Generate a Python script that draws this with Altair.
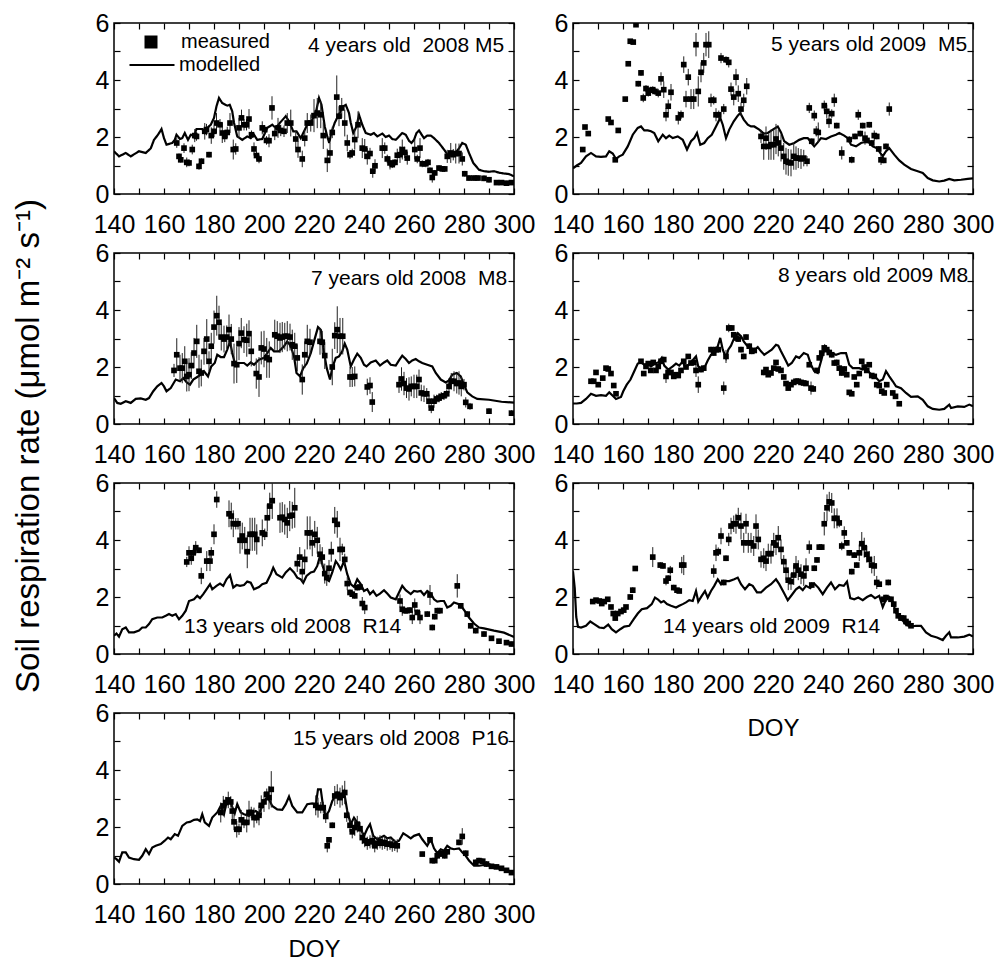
import altair as alt
import pandas as pd

FONT = "Liberation Sans"

# ---------------- data: modelled lines [DOY, rate] ----------------
P1_MODEL = [[140,1.5],[142,1.32],[144.7,1.44],[146.7,1.32],[150,1.5],[152.7,1.44],[154.7,1.6],[156,1.9],[157.6,2.08],[159,2.28],[160,1.96],[161,1.73],[163.3,1.79],[164.3,1.9],[165,2.08],[166.4,1.93],[167.3,1.96],[168.3,2.14],[169.6,1.9],[170.7,2.08],[172,2.05],[173,2.28],[175.3,2.28],[176.3,2.14],[177.3,2.32],[178.7,2.43],[180,2.67],[181,3.08],[182,3.37],[183.3,3.19],[185.3,3.1],[186.3,3.13],[187.3,2.9],[188,2.5],[189.3,2.02],[191.3,1.9],[193.3,2.02],[194.7,1.96],[196,2.08],[197.3,1.9],[199.3,1.93],[201.3,2.32],[203.3,2.43],[204.7,2.32],[206.4,2.5],[208.7,2.73],[210,2.55],[211.7,2.2],[213,2.2],[214.7,1.96],[215.7,2.14],[217.3,2.43],[218.7,2.5],[220,2.73],[221,2.96],[222,3.37],[223,3.13],[224.3,2.37],[225.3,2.02],[226.1,1.79],[226.9,2.14],[228.3,2.5],[229.6,2.73],[231.7,3.08],[232.7,3.13],[234,2.84],[234.7,2.5],[235.7,2.14],[237,2.37],[238,2.78],[239.3,2.43],[240.7,2.14],[242.7,2.08],[244,2.14],[245.3,2.02],[247.3,2.12],[248.7,2.0],[250,2.05],[251.3,1.93],[252.7,1.9],[254,2.02],[255.3,2.14],[256.7,2.08],[258,1.87],[259,1.79],[260,1.9],[261,2.14],[262,2.23],[263.3,2.05],[264,1.96],[265.3,2.05],[266.7,2.05],[268,1.96],[270,1.79],[272,1.56],[274,1.32],[276,1.38],[278,1.6],[279.3,1.79],[280.7,1.73],[282,1.44],[283.7,1.09],[286,0.85],[288,0.8],[290,0.78],[292,0.8],[294,0.75],[296,0.72],[298,0.7],[300,0.62]]

P2_MODEL = [[140,0.9],[141.5,1.0],[143.2,1.09],[145.2,1.32],[147.2,1.44],[149.2,1.32],[151.2,1.3],[153.2,1.32],[154.5,1.5],[155.9,1.42],[157.2,1.23],[158.5,1.32],[159.9,1.38],[161.9,1.67],[163.9,2.08],[165.9,2.32],[167.2,2.37],[168.5,2.23],[169.9,2.23],[171.2,2.2],[172.5,2.14],[174.1,1.85],[175.9,2.08],[177.2,1.96],[178.5,2.05],[179.9,1.96],[181.9,2.02],[183.9,1.9],[185.6,1.56],[187.2,1.85],[188.5,1.96],[189.6,2.14],[190.9,1.73],[192.5,1.79],[193.9,1.96],[195.5,2.08],[197.2,2.37],[198.9,2.67],[199.9,2.43],[201.2,1.96],[202.5,2.26],[204.3,2.55],[205.9,2.75],[206.9,2.84],[208.3,2.61],[209.9,2.43],[211.2,2.37],[212.5,2.37],[214.5,2.26],[216.3,2.12],[217.9,2.14],[219.9,2.26],[221.9,2.37],[223.2,2.16],[224.5,1.85],[226.5,1.73],[228.5,1.79],[230.5,1.9],[232.3,1.96],[233.9,1.96],[235.2,1.81],[236.5,1.67],[237.9,1.81],[239.2,1.96],[241.2,1.93],[243.2,2.02],[245.2,2.08],[246.5,2.14],[248.5,2.05],[249.9,1.96],[251.2,1.73],[253.2,1.67],[255.2,1.79],[257.9,1.85],[259.9,1.67],[261.6,1.61],[262.9,1.44],[263.9,1.32],[265.2,1.5],[266.5,1.61],[268.5,1.38],[270.5,1.18],[272.5,1.03],[275.2,0.88],[277.9,0.8],[279.9,0.74],[281.9,0.56],[283.9,0.48],[286.5,0.44],[288.5,0.47],[290.5,0.53],[292.5,0.48],[295.2,0.5],[297.9,0.53],[300,0.55]]

P3_MODEL = [[140,0.91],[141.3,0.74],[142.7,0.71],[144.7,0.8],[146.7,0.74],[148.7,0.88],[150.7,0.9],[152.7,0.85],[154,0.91],[155.7,1.15],[157.3,1.32],[159,1.44],[160,1.32],[161,1.15],[162.7,1.26],[164.7,1.56],[166.4,1.5],[167.7,1.61],[169.1,1.46],[170.4,1.38],[171.7,1.56],[173.3,1.65],[174.7,1.73],[176,1.85],[177.6,1.67],[178.9,2.02],[180.3,2.14],[181.3,2.43],[182.7,2.35],[184,2.35],[185.3,2.61],[186.4,2.9],[187.3,2.49],[188.3,2.14],[190,2.14],[192,2.14],[193.3,2.05],[194.7,2.16],[196,2.08],[198,2.26],[200,2.32],[201.3,2.49],[202.7,2.67],[204,2.55],[206,2.55],[208,2.73],[209.3,2.9],[210.7,2.73],[212,2.37],[213,1.79],[214.4,1.67],[215.7,1.96],[217.1,2.12],[218.7,2.49],[220,2.9],[221.6,3.4],[222.7,3.31],[223.7,2.67],[225.1,1.96],[226.4,1.56],[227.3,1.96],[228.7,2.32],[230,2.37],[231.3,2.55],[232.3,2.82],[233.3,2.61],[234.7,2.02],[236,2.26],[237.3,2.47],[238.7,2.32],[240,2.08],[241,2.02],[242.7,2.16],[244.7,2.23],[246.4,2.05],[248,2.16],[249.3,2.23],[250.7,2.08],[252.7,2.05],[254,2.23],[255.3,2.4],[256.7,2.28],[258,2.14],[259.3,2.23],[260.7,2.28],[262,2.2],[263.3,2.14],[265.3,2.08],[267.3,2.02],[268.7,1.79],[270.7,1.56],[272.7,1.46],[274,1.53],[275.3,1.73],[277.1,1.79],[278.7,1.67],[280,1.38],[281.3,1.11],[283.3,0.97],[285.3,0.88],[290,0.85],[295,0.78],[300,0.75]]

P4_MODEL = [[140,0.72],[141.5,0.72],[143.2,0.74],[145.2,0.88],[147.2,1.06],[149.2,0.99],[151.2,1.01],[153.2,0.99],[154.5,1.11],[155.9,0.99],[157.2,0.88],[159.2,0.95],[160.1,1.15],[161.5,1.38],[163,1.56],[164.5,1.85],[165.9,2.12],[167.2,2.16],[168.5,2.08],[169.9,2.12],[171.2,2.02],[172.8,2.12],[174.1,2.16],[175.5,2.32],[176.5,2.05],[178.1,1.91],[179.9,2.02],[181.2,2.12],[182.5,2.05],[183.9,2.2],[184.8,2.0],[185.9,2.05],[187.2,2.16],[188.3,2.28],[189.2,2.37],[190.1,2.02],[191.2,1.96],[192.8,2.02],[193.9,2.23],[195.2,2.43],[196.5,2.51],[197.9,2.73],[198.9,3.02],[199.9,2.61],[201.2,2.32],[202.1,2.61],[203.2,2.75],[204.5,3.02],[205.9,3.19],[207.2,3.08],[208.3,2.9],[209.6,2.75],[210.9,2.7],[212.3,2.58],[213.9,2.7],[215.2,2.55],[216.5,2.43],[217.9,2.51],[219.5,2.61],[221.2,2.78],[222.1,2.75],[223.2,2.55],[224.8,2.28],[226.1,2.05],[227.5,2.14],[229.2,2.37],[230.5,2.32],[232.3,2.49],[233.9,2.43],[235.2,2.08],[236.5,1.85],[237.9,1.79],[239.2,2.2],[240.8,2.73],[242.5,2.55],[243.9,2.47],[245.2,2.43],[247.2,2.49],[249.2,2.49],[250.5,2.08],[251.9,1.96],[254.5,1.96],[255.9,1.91],[257.2,1.96],[258.9,1.77],[260.5,1.7],[262.5,1.5],[263.9,1.56],[265.2,1.85],[266.5,1.67],[267.9,1.5],[269.2,1.32],[271.2,1.26],[273.2,1.09],[275.2,0.95],[277.9,0.97],[279.9,0.85],[281.9,0.62],[283.9,0.53],[286.5,0.5],[288.5,0.53],[290.5,0.68],[291.2,0.56],[293.9,0.62],[296.5,0.6],[298.5,0.68],[300,0.62]]

P5_MODEL = [[140,0.64],[141,0.72],[142,0.61],[143.3,0.87],[144.7,0.93],[146,0.76],[148,0.76],[150,0.82],[151.3,0.93],[152.7,0.93],[154,1.05],[155.3,1.22],[157.3,1.28],[159.3,1.28],[160.7,1.34],[162,1.4],[163.3,1.34],[164.7,1.4],[166,1.22],[167.3,1.34],[168.7,1.52],[170,1.86],[172,1.92],[173.3,2.04],[174.4,1.96],[175.7,2.1],[177,2.27],[178.4,2.45],[179.3,2.27],[181,2.39],[182.4,2.47],[183.7,2.39],[185,2.62],[186.4,2.77],[187.7,2.33],[189,2.42],[190.4,2.39],[192,2.42],[193.3,2.54],[194.7,2.5],[196,2.27],[198,2.35],[199.3,2.45],[201,2.5],[202.7,2.8],[203.7,3.03],[205,2.8],[207.3,2.68],[208.7,2.86],[210.4,3.01],[212,2.86],[213.3,2.68],[214.7,2.62],[215.7,2.5],[217,2.74],[218.7,2.86],[220,2.89],[221.3,3.09],[222.4,3.44],[223.7,3.03],[225,2.62],[226,2.56],[227.3,2.86],[228.7,3.26],[229.6,3.15],[230.7,2.97],[232,3.26],[233.3,2.8],[234.7,2.45],[236,2.35],[237.3,2.62],[238.7,2.45],[240,2.21],[241.3,2.27],[242.4,2.1],[243.7,2.21],[245,2.04],[246.4,2.12],[248,2.24],[249.3,2.12],[250.7,1.98],[252.7,1.92],[254,2.16],[255.3,2.39],[256.7,2.24],[258.7,2.1],[260,2.21],[261.3,2.19],[262.7,2.21],[264,2.07],[265.3,2.21],[266.7,2.12],[268,1.92],[269.3,1.84],[270.7,1.86],[272,1.86],[273.3,1.63],[274.7,1.69],[276,1.81],[278,1.75],[279.3,1.63],[280.7,1.46],[282,1.28],[284,1.07],[286,0.93],[288,0.9],[292,0.82],[296,0.75],[300,0.6]]

P6_MODEL = [[140,2.9],[140.7,2.3],[141.3,1.3],[142,0.95],[143.2,0.93],[145.2,0.99],[146.9,1.14],[148.5,1.05],[150.5,0.93],[152.3,0.91],[154.1,1.03],[155.5,0.87],[157.2,0.76],[158.9,0.87],[160.5,0.96],[162.5,0.99],[164.3,1.22],[165.9,1.42],[167.5,1.57],[169.6,1.61],[171.5,1.75],[172.8,1.98],[173.9,1.92],[175.2,1.81],[176.3,1.86],[177.6,1.75],[179.2,1.69],[181.2,1.63],[182.5,1.69],[183.9,1.75],[185.2,1.81],[186.5,1.89],[187.9,1.86],[189.2,2.21],[190.1,1.84],[191.5,2.04],[192.8,2.21],[193.9,1.98],[195.2,2.21],[196.5,2.39],[197.9,2.62],[199.2,2.45],[200.5,2.56],[202.5,2.56],[204.5,2.62],[205.9,2.68],[207.2,2.45],[208.8,2.27],[210.5,2.45],[211.9,2.39],[213.6,2.16],[215.2,2.16],[217.2,2.33],[219.2,2.45],[221.2,2.62],[222.5,2.45],[224.3,2.16],[225.9,1.89],[227.5,2.07],[229.2,2.27],[230.5,2.35],[231.9,2.24],[233.2,2.39],[234.9,2.31],[236.5,2.47],[238.1,2.33],[239.9,2.1],[241.6,2.33],[243.2,2.51],[244.8,2.27],[246.5,2.42],[248.3,2.39],[249.6,2.54],[250.9,1.96],[252.5,1.92],[254.1,1.98],[255.9,1.89],[257.6,2.0],[259.2,2.07],[260.8,1.96],[262.5,2.04],[263.9,1.65],[265.2,1.92],[266.5,2.0],[267.9,1.81],[269.2,1.46],[270.5,1.28],[271.9,1.17],[273.2,1.03],[275.2,0.96],[277.2,0.99],[279.2,0.99],[281.2,0.76],[283.2,0.64],[285.6,0.58],[287.9,0.49],[289.2,0.64],[290.5,0.76],[291.2,0.58],[293.9,0.58],[296.5,0.61],[298.5,0.68],[300,0.61]]

P7_MODEL = [[140,0.93],[141,0.87],[142,0.78],[143.3,1.11],[144.7,1.11],[146,0.93],[148,0.87],[150,0.85],[151.3,0.99],[152.7,1.22],[154,1.05],[155.3,1.28],[156.7,1.34],[158.7,1.4],[160.3,1.52],[161.6,1.63],[162.7,1.57],[164.3,1.75],[165.6,1.69],[167.3,2.04],[169.1,2.16],[170.4,2.18],[172,2.25],[173.3,2.27],[174.4,2.21],[175.3,2.45],[176.3,2.16],[178,2.04],[179.3,2.33],[181.3,2.51],[182.7,2.74],[184,2.45],[185.3,2.97],[186.9,2.8],[188.3,2.48],[189.3,2.8],[190.7,2.51],[192,2.45],[194,2.39],[195.3,2.51],[196.7,2.56],[198,2.48],[199.7,2.8],[201.3,3.09],[203.3,2.74],[205.3,2.62],[207.3,2.6],[208.7,2.8],[210,3.07],[211.3,2.74],[213.3,2.51],[215.3,2.51],[217.3,2.8],[219.3,2.83],[220.7,2.76],[221.6,3.32],[222.7,3.32],[223.7,2.68],[224.7,2.39],[226,2.56],[227.3,2.91],[229.3,3.21],[230.7,3.09],[232,3.26],[233.3,2.56],[234.7,2.1],[236,2.33],[237.3,2.16],[238.7,1.92],[240,1.69],[241.3,1.94],[242.4,2.1],[243.7,1.69],[245.3,1.57],[246.7,1.63],[248,1.69],[249.3,1.6],[250.7,1.63],[252.7,1.46],[254,1.52],[255.7,1.78],[257.3,1.69],[258.7,1.6],[260,1.69],[262,1.75],[263.3,1.57],[265.3,1.34],[266.7,1.57],[268,1.25],[269.3,1.08],[270.7,1.22],[272,1.17],[273.3,1.34],[274.7,1.25],[276,1.22],[278,1.25],[279.3,1.11],[280.7,0.99],[282,0.82],[284,0.64],[286,0.64],[290,0.7],[294,0.55],[297,0.5],[300,0.4]]

# ---------------- data: measured [DOY, rate, error] ----------------
P1_MEAS = [[165.1,1.79,0.17],[166,1.32,0.1],[166.7,1.2,0.1],[168,1.61,0.17],[169.1,1.11,0.17],[170,1.09,0.12],[171.3,1.56,0.17],[172.3,2.05,0.23],[173,2.02,0.15],[174,0.97,0.12],[175,1.15,0.1],[176.3,2.2,0.29],[177,2.26,0.2],[178,1.38,0.1],[178.9,2.05,0.29],[180,2.2,0.2],[181,2.49,0.35],[182.4,2.43,0.2],[183.3,2.14,0.35],[184.3,2.02,0.2],[185.3,2.16,0.2],[186.4,2.49,0.35],[187.7,1.56,0.35],[188.7,1.58,0.2],[190,2.32,0.35],[191,2.67,0.29],[192,2.43,0.2],[193,2.43,0.2],[194,2.63,0.35],[195,2.08,0.15],[196,1.58,0.23],[197,1.35,0.15],[198,1.23,0.15],[199.3,2.32,0.23],[200.3,2.26,0.15],[201,1.88,0.15],[202,1.87,0.23],[203.2,3.02,0.41],[204.3,2.12,0.23],[205.6,2.32,0.35],[206.7,2.23,0.2],[208,2.2,0.2],[209.3,2.49,0.35],[210.7,2.49,0.47],[212.7,1.93,0.29],[213.6,1.56,0.29],[215.3,1.23,0.29],[216.3,1.96,0.29],[217.3,2.49,0.35],[218.7,2.49,0.3],[220,2.75,0.58],[221.3,2.84,0.53],[222.7,2.78,0.47],[223.7,2.05,0.47],[225.3,1.18,0.41],[226.4,1.44,0.35],[227.3,2.16,0.2],[229.1,3.4,0.76],[230,2.73,0.35],[231.1,3.02,0.35],[232.3,2.49,0.47],[233.3,1.79,0.29],[234.4,1.38,0.15],[235.3,1.44,0.15],[236.3,1.91,0.35],[237.6,2.43,0.47],[239.3,1.61,0.35],[240.3,1.58,0.35],[241.3,1.32,0.29],[242.4,1.42,0.2],[243.5,0.8,0.23],[244.4,0.99,0.23],[247.3,1.61,0.35],[248.3,1.61,0.2],[249.3,1.23,0.15],[250.4,1.09,0.23],[251.3,1.03,0.12],[252.4,1.11,0.12],[253.3,1.36,0.23],[254.4,1.38,0.29],[255.3,1.56,0.35],[256.3,1.46,0.2],[257.3,1.26,0.23],[260.3,1.56,0.35],[261.3,1.23,0.15],[262.4,1.61,0.35],[263.3,1.06,0.12],[264.7,1.06,0.12],[265.6,1.11,0.12],[266.4,0.83,0.1],[267.3,0.58,0.18],[268.3,0.74,0.1],[270,0.91,0.1],[271.3,0.88,0.1],[272.3,0.88,0.1],[273.3,1.32,0.23],[274.7,1.44,0.35],[275.7,1.38,0.2],[276.7,1.42,0.35],[278,1.42,0.35],[279.3,1.23,0.23],[280.3,0.71,0.1],[282,0.56,0.1],[284,0.56,0.1],[285.6,0.56,0.1],[288,0.55,0.1],[290,0.5,0.1],[293,0.4,0.08],[295,0.4,0.08],[297,0.38,0.08],[299,0.4,0.08]]

P2_MEAS = [[143.9,1.56,0.05],[144.8,2.35,0.05],[146.1,2.12,0.05],[154.1,2.63,0.05],[155.2,2.51,0.05],[156.9,1.2,0.05],[158.1,2.23,0.05],[160.9,3.33,0.05],[162.1,4.57,0.05],[162.9,5.36,0.05],[164.1,5.33,0.05],[165.2,5.94,0.05],[166.1,3.87,0.1],[167.2,4.25,0.1],[168.1,3.37,0.15],[169.2,3.7,0.12],[170.1,3.54,0.12],[170.9,3.64,0.12],[171.9,3.66,0.12],[172.8,3.6,0.12],[174.1,3.54,0.15],[175.2,4.04,0.23],[176.3,3.66,0.29],[177.2,2.78,0.23],[178.1,3.08,0.23],[179.2,3.57,0.29],[182.1,2.67,0.23],[183.2,2.78,0.15],[184.3,4.54,0.29],[185.2,3.33,0.29],[186.1,4.1,0.29],[187.2,3.33,0.35],[188.3,3.33,0.35],[189.2,5.24,0.41],[190.1,3.6,0.53],[191.2,4.27,0.35],[192.3,4.6,0.35],[193.2,5.24,0.41],[194.3,5.24,0.47],[195.2,3.29,0.23],[196.3,3.29,0.15],[197.2,2.78,0.23],[198.3,2.78,0.15],[199.2,4.77,0.18],[200.3,2.98,0.18],[201.2,4.71,0.12],[202.3,4.62,0.18],[203.2,3.68,0.23],[204.3,3.4,0.29],[205.2,4.1,0.29],[206.1,3.52,0.29],[207.2,2.98,0.23],[208.3,3.29,0.23],[209.5,3.78,0.29],[215.2,2.02,0.23],[216.3,1.67,0.47],[217.2,1.96,0.41],[218.3,1.67,0.47],[219.2,1.73,0.53],[220.3,1.73,0.53],[221.2,1.93,0.53],[222.1,1.79,0.47],[223.2,1.61,0.47],[224.3,1.32,0.47],[225.2,1.15,0.47],[226.1,1.11,0.47],[227.2,1.09,0.47],[228.3,1.32,0.47],[229.2,1.26,0.41],[230.1,1.26,0.35],[231.2,1.23,0.35],[232.3,1.26,0.29],[233.6,1.15,0.18],[234.5,3.02,0.18],[235.5,1.85,0.1],[236.5,2.75,0.18],[237.3,2.2,0.18],[238.1,2.16,0.35],[240.5,3.1,0.18],[241.5,2.9,0.23],[242.4,2.55,0.23],[243.5,2.82,0.15],[244.5,3.29,0.23],[245.5,2.4,0.1],[247.5,1.44,0.23],[250.5,1.91,0.12],[251.5,1.2,0.12],[252.8,2.02,0.1],[254.1,2.78,0.18],[254.9,2.12,0.1],[255.9,2.4,0.1],[256.8,1.96,0.23],[257.6,1.88,0.1],[258.5,2.43,0.1],[259.5,1.79,0.1],[260.5,2.05,0.18],[261.5,2.02,0.1],[262.3,1.58,0.1],[263.2,1.2,0.18],[264.3,1.18,0.1],[265.2,1.67,0.1],[266.5,2.98,0.23]]

P3_MEAS = [[164,1.88,0.23],[165.1,2.43,0.58],[166.4,1.96,0.47],[167.3,1.96,0.53],[168.3,2.2,0.53],[169.1,1.67,0.53],[170,1.73,0.58],[170.9,2.05,0.47],[172,2.49,0.53],[173.1,2.9,0.58],[174,1.85,0.58],[174.9,1.79,0.47],[176,2.55,0.47],[177.1,2.98,0.7],[178,2.2,0.35],[178.9,2.73,0.47],[180,3.4,0.58],[181.1,3.8,0.7],[182,3.57,0.58],[182.9,3.05,0.47],[184,2.98,0.47],[185.1,3.05,0.41],[186,3.31,0.53],[186.9,2.98,0.53],[188,2.12,0.7],[189.1,2.08,0.64],[190,2.82,0.58],[190.9,3.19,0.53],[192,2.96,0.47],[193.1,2.94,0.58],[194,3.17,0.47],[194.9,2.55,0.53],[196.9,1.77,0.53],[198,1.65,0.7],[198.9,2.67,0.58],[200,2.63,0.64],[201.1,2.32,0.7],[202.1,2.26,0.64],[204.3,3.13,0.53],[205.3,3.08,0.53],[206.4,3.02,0.53],[207.3,3.05,0.53],[208.3,3.08,0.47],[209.3,3.08,0.53],[210.4,3.05,0.47],[211.3,2.78,0.53],[212.3,2.73,0.47],[213.3,2.32,0.47],[215.3,1.56,0.53],[216.3,2.43,0.47],[217.3,2.9,0.58],[218.4,2.87,0.47],[222.4,2.9,0.47],[223.3,2.87,0.4],[224.3,2.4,0.47],[227.3,2.0,0.64],[228.3,3.1,0.47],[229.3,3.31,0.82],[230.4,3.08,0.64],[231.5,3.08,0.64],[234.4,1.65,0.35],[235.3,1.65,0.35],[236.3,1.67,0.35],[241.3,1.3,0.29],[242.4,1.35,0.29],[243.3,0.77,0.35],[254,1.38,0.29],[255,1.58,0.41],[256,1.42,0.41],[257,1.26,0.35],[258,1.23,0.41],[258.9,1.32,0.35],[260,1.32,0.41],[261.1,1.32,0.41],[262,1.56,0.35],[262.9,1.09,0.29],[264,1.06,0.29],[265.1,1.06,0.2],[266,0.8,0.23],[266.9,0.56,0.18],[268,0.8,0.23],[269.1,0.88,0.15],[270,0.91,0.15],[270.9,0.97,0.15],[272,0.99,0.15],[273.1,1.06,0.15],[274,1.32,0.23],[274.9,1.5,0.29],[276,1.5,0.35],[277.1,1.42,0.35],[278,1.44,0.41],[278.9,1.32,0.35],[280,1.38,0.2],[280.7,0.76,0.18],[282.4,0.62,0.12],[290,0.45,0.1],[299,0.38,0.1]]

P4_MEAS = [[147.2,1.5,0.05],[148.3,1.5,0.05],[149.2,1.81,0.05],[150.1,1.38,0.05],[151.9,1.61,0.05],[153.2,1.96,0.05],[154.1,1.93,0.05],[155.2,1.77,0.05],[156.3,1.35,0.05],[157.2,1.06,0.05],[167.2,2.2,0.08],[168.3,1.77,0.08],[169.2,2.02,0.08],[170.1,2.12,0.08],[171.1,1.88,0.08],[172.1,2.16,0.08],[173.2,1.88,0.08],[174.1,2.02,0.08],[175.2,2.2,0.1],[176.3,2.26,0.1],[177.2,1.67,0.23],[178.1,1.81,0.1],[179.2,1.81,0.08],[180.3,1.67,0.08],[181.2,1.73,0.08],[182.1,1.7,0.08],[183.2,1.88,0.08],[184.3,2.2,0.08],[185.2,2.0,0.08],[186.1,2.37,0.08],[187.2,2.14,0.08],[188.3,2.16,0.1],[189.2,1.88,0.23],[190.1,1.38,0.29],[191.2,1.91,0.1],[192.3,1.96,0.1],[195.2,2.61,0.1],[196.3,2.49,0.1],[197.2,2.61,0.1],[198.1,2.61,0.1],[200.3,1.26,0.23],[201.2,2.37,0.23],[202.3,3.37,0.15],[203.5,3.37,0.1],[204.3,3.13,0.1],[205.2,3.02,0.1],[206.1,2.98,0.1],[207.2,2.61,0.1],[208.3,2.37,0.1],[209.2,3.05,0.1],[210.5,2.73,0.1],[211.5,2.55,0.1],[212.5,2.58,0.1],[216.3,1.81,0.1],[217.2,1.91,0.08],[218.1,1.73,0.08],[219.2,1.79,0.08],[220.3,1.96,0.08],[221.2,2.16,0.08],[222.1,1.93,0.08],[223.2,1.88,0.08],[224.3,1.65,0.08],[225.2,1.42,0.08],[226.1,1.26,0.08],[227.2,1.38,0.08],[228.3,1.46,0.08],[229.2,1.5,0.1],[230.1,1.5,0.1],[231.2,1.46,0.1],[232.3,1.44,0.08],[233.2,1.42,0.08],[234.5,2.08,0.08],[235.2,1.26,0.23],[236.1,1.23,0.1],[237.6,1.88,0.08],[238.5,2.32,0.08],[239.5,2.49,0.08],[240.5,2.67,0.1],[241.5,2.61,0.1],[242.5,2.51,0.1],[243.5,2.43,0.1],[244.5,2.14,0.1],[245.5,2.16,0.1],[246.5,1.96,0.1],[247.5,1.79,0.1],[248.5,1.93,0.1],[249.5,1.73,0.08],[250.5,1.11,0.08],[251.5,1.06,0.08],[252.5,1.65,0.08],[253.5,1.38,0.08],[254.5,1.77,0.08],[255.5,2.2,0.08],[256.5,2.0,0.08],[257.5,1.88,0.08],[258.5,2.08,0.08],[259.5,1.7,0.08],[260.5,1.67,0.08],[261.5,1.38,0.08],[262.5,1.35,0.08],[263.5,1.15,0.08],[264.5,1.09,0.08],[265.5,1.38,0.08],[267.9,1.09,0.08],[269,0.97,0.08],[270.5,0.71,0.08]]

P5_MEAS = [[169.1,3.23,0.18],[170,3.55,0.23],[170.9,3.36,0.23],[171.7,3.55,0.15],[172.7,3.73,0.23],[174,3.64,0.1],[174.9,2.74,0.29],[177.1,3.26,0.35],[178.4,3.26,0.35],[178.9,3.55,0.2],[180,4.2,0.35],[181.1,5.42,0.29],[186,4.92,0.47],[186.9,4.84,0.47],[187.7,4.57,0.47],[188.7,4.57,0.2],[189.6,4.57,0.2],[190.4,3.99,0.47],[191.3,4.14,0.47],[192.3,3.99,0.47],[193.3,3.59,0.58],[194.4,4.2,0.58],[195.3,4.2,0.58],[196.3,4.2,0.58],[197.1,4.02,0.53],[199.3,4.25,0.47],[200.3,4.2,0.2],[201.3,4.78,0.47],[202.3,5.19,0.47],[203.3,5.38,0.64],[206.4,4.78,0.53],[207.3,4.8,0.53],[208.3,4.72,0.53],[209.3,4.6,0.53],[210.3,4.84,0.53],[211.3,4.87,0.47],[212.3,5.13,0.7],[213.3,3.17,0.29],[214.3,3.4,0.35],[215.3,2.89,0.35],[216.3,3.32,0.35],[217.3,4.25,0.58],[218.4,4.25,0.58],[219.3,3.9,0.47],[220.3,4.2,0.47],[221.3,3.99,0.47],[222.4,3.5,0.35],[223.3,3.4,0.35],[224.3,2.82,0.35],[225.1,2.68,0.29],[226,3.01,0.29],[226.9,3.59,0.35],[228.3,4.69,0.47],[229.3,4.55,0.47],[230.4,3.67,0.41],[231.3,3.67,0.2],[232.3,3.32,0.2],[233.3,2.47,0.23],[234.4,2.16,0.1],[235.3,2.1,0.1],[236.3,2.04,0.1],[237.3,2.33,0.1],[238.4,2.35,0.1],[239.3,1.77,0.23],[240.3,1.63,0.23],[254.4,1.86,0.23],[255.3,1.57,0.23],[256.3,1.52,0.1],[257.3,1.52,0.1],[258.4,1.54,0.1],[259.3,1.28,0.23],[260.3,1.72,0.23],[261.3,1.46,0.1],[262.4,1.28,0.23],[265.3,1.4,0.1],[266.4,2.07,0.35],[267.3,0.93,0.1],[268.3,1.31,0.1],[269.3,1.52,0.1],[270.4,1.52,0.1],[277.3,2.39,0.41],[278.7,1.69,0.1],[281.3,1.4,0.1],[282.7,0.99,0.1],[284.7,0.82,0.1],[288,0.7,0.1],[291,0.55,0.08],[294,0.45,0.08],[297,0.4,0.08],[299,0.35,0.08]]

P6_MEAS = [[147.9,1.84,0.05],[149.2,1.89,0.05],[150.5,1.86,0.05],[151.5,1.77,0.05],[152.5,1.84,0.05],[153.9,1.92,0.05],[155.2,1.65,0.05],[156.1,1.42,0.08],[156.9,1.26,0.08],[157.9,1.42,0.05],[159.2,1.49,0.05],[160.3,1.54,0.05],[161.2,1.65,0.05],[162.9,2.0,0.1],[163.9,2.24,0.1],[164.9,3.0,0.05],[171.9,3.4,0.35],[174.9,3.12,0.1],[176,3.09,0.1],[177.2,2.56,0.15],[178.1,2.66,0.1],[178.9,2.94,0.15],[180.3,2.33,0.1],[181.6,2.24,0.05],[182.5,2.21,0.05],[183.5,3.12,0.29],[184.3,3.12,0.35],[196.3,2.91,0.23],[197.2,3.55,0.29],[198.1,3.59,0.15],[199.2,4.14,0.29],[200.3,2.51,0.1],[201.2,3.36,0.1],[202.3,4.02,0.23],[203.2,4.49,0.29],[204.3,4.57,0.29],[205.2,4.57,0.35],[206.1,4.78,0.35],[207.2,4.49,0.47],[208.3,3.9,0.35],[209.2,4.57,0.35],[210.1,3.9,0.35],[211.2,3.9,0.35],[212.3,3.79,0.35],[213.2,4.49,0.41],[214.1,4.02,0.35],[215.2,3.32,0.29],[216.3,3.36,0.35],[217.2,3.26,0.35],[218.1,3.52,0.35],[219.2,3.52,0.35],[220.3,3.9,0.35],[221.2,3.82,0.35],[222.1,4.08,0.41],[223.2,3.67,0.35],[224.3,3.24,0.23],[225.2,2.94,0.35],[226.1,2.59,0.35],[227.2,2.54,0.29],[228.3,2.77,0.35],[229.2,3.09,0.35],[230.1,2.94,0.35],[231.2,2.8,0.35],[232.3,2.74,0.35],[233.2,3.01,0.35],[234.5,3.75,0.23],[235.5,2.42,0.1],[236.5,3.01,0.1],[237.6,3.3,0.1],[238.5,3.75,0.1],[239.5,3.75,0.1],[240.5,4.57,0.41],[241.6,5.13,0.47],[242.5,5.34,0.35],[243.5,5.3,0.35],[244.5,4.76,0.35],[245.6,4.76,0.35],[246.5,4.6,0.15],[247.5,3.79,0.15],[248.5,4.25,0.23],[249.5,3.9,0.1],[250.5,3.55,0.1],[251.5,2.89,0.1],[252.5,3.47,0.1],[253.5,3.12,0.1],[254.5,3.55,0.29],[255.5,3.87,0.41],[256.5,3.73,0.35],[257.5,3.5,0.29],[258.5,3.32,0.29],[259.5,3.12,0.29],[260.5,3.09,0.35],[261.5,2.51,0.23],[262.5,2.45,0.1],[264.3,1.92,0.1],[265.2,1.98,0.1],[266.1,2.51,0.1],[267.2,1.92,0.1],[268.3,1.75,0.1],[269.2,1.52,0.1],[270.1,1.34,0.1],[271.2,1.26,0.1],[272.3,1.26,0.1],[273.2,1.14,0.1],[274.1,1.07,0.05],[275.2,0.99,0.05]]

P7_MEAS = [[182.7,2.51,0.35],[183.7,2.74,0.35],[184.7,2.86,0.2],[185.7,2.95,0.29],[186.7,2.88,0.2],[187.3,2.56,0.29],[188,2.18,0.29],[189.1,1.92,0.29],[190,1.92,0.2],[190.9,2.25,0.35],[192,2.16,0.2],[193.1,2.16,0.35],[194,2.51,0.41],[194.9,2.51,0.2],[196,2.33,0.35],[197.1,2.33,0.2],[198,2.41,0.35],[198.9,2.76,0.35],[200,2.88,0.35],[201.1,3.15,0.2],[202,3.03,0.41],[202.9,3.32,0.64],[220.7,2.76,0.35],[221.6,2.68,0.35],[222.7,2.68,0.2],[223.7,2.68,0.2],[224.7,2.37,0.23],[225.3,1.34,0.23],[226,1.55,0.1],[227.3,2.06,0.1],[228.3,3.09,0.35],[229.3,3.15,0.35],[230.4,3.03,0.35],[231.3,3.11,0.35],[232.3,3.21,0.41],[233.1,2.41,0.23],[234.4,2.06,0.23],[235.3,1.83,0.23],[236.3,1.98,0.29],[237.3,2.1,0.29],[238.4,1.94,0.23],[239.3,1.63,0.23],[240.3,1.52,0.23],[241.3,1.43,0.23],[242.4,1.48,0.23],[243.3,1.52,0.23],[244.3,1.34,0.23],[245.3,1.43,0.23],[246.4,1.48,0.23],[247.3,1.43,0.23],[248.3,1.46,0.23],[249.3,1.4,0.23],[250.4,1.4,0.2],[251.3,1.36,0.23],[252.3,1.36,0.2],[253.3,1.34,0.23],[263.3,1.05,0.08],[266.4,1.55,0.08],[267.3,0.82,0.08],[268.3,0.82,0.08],[269.3,0.99,0.1],[270.4,1.05,0.1],[271.3,1.08,0.1],[272.3,0.99,0.1],[273.3,1.13,0.1],[278,1.46,0.1],[279.3,1.67,0.29],[280.7,1.08,0.1],[284.7,0.76,0.1],[286,0.82,0.1],[287.5,0.8,0.1],[289,0.7,0.1],[291,0.62,0.08],[293,0.6,0.08],[295,0.55,0.08],[297,0.48,0.08],[299,0.4,0.08]]

LABELS = ["4 years old \u00a02008 M5", "5 years old 2009 \u00a0M5", "7 years old 2008 \u00a0M8",
          "8 years old 2009 M8", "13 years old 2008 \u00a0R14", "14 years old 2009 \u00a0R14",
          "15 years old 2008 \u00a0P16"]
X_TICKS = list(range(140, 301, 10))
Y_TICKS = [0, 1, 2, 3, 4, 5, 6]
Y_TITLE = "Soil respiration rate (\u03bcmol m\u207b\u00b2 s\u207b\u00b9)"

# label placement inside each panel (pixels from plot's top-left corner)
LABEL_POS = [(194, 29), (198, 28), (197, 32), (205, 29), (70, 150), (90, 150), (179, 32)]

W, H = 400, 171
INWARD = alt.ExprRef(expr="-6")
XSCALE = alt.Scale(domain=[140, 300], nice=False, zero=False)
YSCALE = alt.Scale(domain=[0, 6], nice=False, zero=False)


def panel(model, meas, label, pos, xtitle=None, title_pad=6, legend=False):
    mdf = pd.DataFrame(model, columns=["doy", "val"])
    mdf["kind"] = "modelled"
    sdf = pd.DataFrame(meas, columns=["doy", "val", "err"])
    sdf["lo"] = sdf["val"] - sdf["err"]
    sdf["hi"] = sdf["val"] + sdf["err"]
    sdf["kind"] = "measured"

    common = dict(tickSize=INWARD, tickWidth=1.2, tickColor="black", domain=False, grid=False,
                  labelFont=FONT, labelFontSize=25, labelColor="black",
                  titleFont=FONT, titleFontSize=24, titleFontWeight="normal", titleColor="black")
    xb = dict(orient="bottom", values=X_TICKS,
              labelExpr="datum.value % 20 == 0 ? datum.label : ''",
              labelPadding=24, labelOverlap=False, labelFlush=False, **common)
    if xtitle:
        xb.update(title=xtitle, titlePadding=title_pad)
    else:
        xb.update(title=None)
    x_bottom = alt.Axis(**xb)
    y_left = alt.Axis(orient="left", values=Y_TICKS,
                      labelExpr="datum.value % 2 == 0 ? datum.label : ''",
                      labelPadding=11, labelOverlap=False, labelFlush=False, title=None, **common)
    x_top = alt.Axis(orient="top", values=X_TICKS, labels=False, title=None, **common)
    y_right = alt.Axis(orient="right", values=Y_TICKS, labels=False, title=None, **common)

    line_enc = dict(x=alt.X("doy:Q", scale=XSCALE, axis=x_bottom),
                    y=alt.Y("val:Q", scale=YSCALE, axis=y_left))
    pt_enc = dict(x=alt.X("doy:Q", scale=XSCALE, axis=x_top),
                  y=alt.Y("val:Q", scale=YSCALE, axis=y_right))
    if legend:
        line_enc["strokeDash"] = alt.StrokeDash(
            "kind:N", scale=alt.Scale(domain=["modelled"], range=[[1, 0]]),
            legend=alt.Legend(title=None, orient="none", legendX=14, legendY=18,
                              symbolType="stroke", symbolSize=2025, symbolStrokeWidth=2.2,
                              symbolStrokeColor="black", labelOffset=3, labelFontSize=20,
                              labelFont=FONT, labelColor="black", padding=0))
        pt_enc["shape"] = alt.Shape(
            "kind:N", scale=alt.Scale(domain=["measured"], range=["square"]),
            legend=alt.Legend(title=None, orient="none", legendX=27, legendY=9,
                              symbolSize=169, symbolFillColor="black",
                              symbolStrokeColor="black", symbolStrokeWidth=0,
                              symbolOffset=0, labelOffset=20, labelFontSize=20,
                              labelFont=FONT, labelColor="black", padding=0))

    line = alt.Chart(mdf).mark_line(color="black", strokeWidth=2.2, clip=True).encode(**line_enc)
    bars = alt.Chart(sdf).mark_rule(color="#222222", strokeWidth=1, clip=True).encode(
        x=alt.X("doy:Q", scale=XSCALE, axis=None),
        y=alt.Y("lo:Q", scale=YSCALE, axis=None),
        y2="hi:Q")
    pts = alt.Chart(sdf).mark_point(shape="square", filled=True, size=32, color="black",
                                    opacity=1, clip=True).encode(**pt_enc)
    txt = alt.Chart(pd.DataFrame({"t": [label]})).mark_text(
        align="left", baseline="alphabetic", fontSize=21, font=FONT, color="black").encode(
        text="t:N", x=alt.value(pos[0]), y=alt.value(pos[1]))
    return alt.layer(line, bars, pts, txt).properties(width=W, height=H)


charts = [
    panel(P1_MODEL, P1_MEAS, LABELS[0], LABEL_POS[0], legend=True),
    panel(P2_MODEL, P2_MEAS, LABELS[1], LABEL_POS[1]),
    panel(P3_MODEL, P3_MEAS, LABELS[2], LABEL_POS[2]),
    panel(P4_MODEL, P4_MEAS, LABELS[3], LABEL_POS[3]),
    panel(P5_MODEL, P5_MEAS, LABELS[4], LABEL_POS[4]),
    panel(P6_MODEL, P6_MEAS, LABELS[5], LABEL_POS[5], xtitle="DOY", title_pad=19),
    panel(P7_MODEL, P7_MEAS, LABELS[6], LABEL_POS[6], xtitle="DOY", title_pad=10),
]

chart = alt.concat(*charts, columns=2, spacing=59, bounds="flush").resolve_scale(
    shape="independent", strokeDash="independent"
).resolve_legend(shape="independent", strokeDash="independent").properties(
    title=alt.TitleParams(text=Y_TITLE, orient="left", anchor="middle",
                          fontSize=33, font=FONT, fontWeight="normal", color="black",
                          offset=46, dx=40),
    padding={"left": 13, "top": 10, "right": 5, "bottom": 5},
    background="white",
).configure_view(stroke="black", strokeWidth=1.5)

chart.save("out.html", embed_options={"renderer": "svg", "actions": False})
